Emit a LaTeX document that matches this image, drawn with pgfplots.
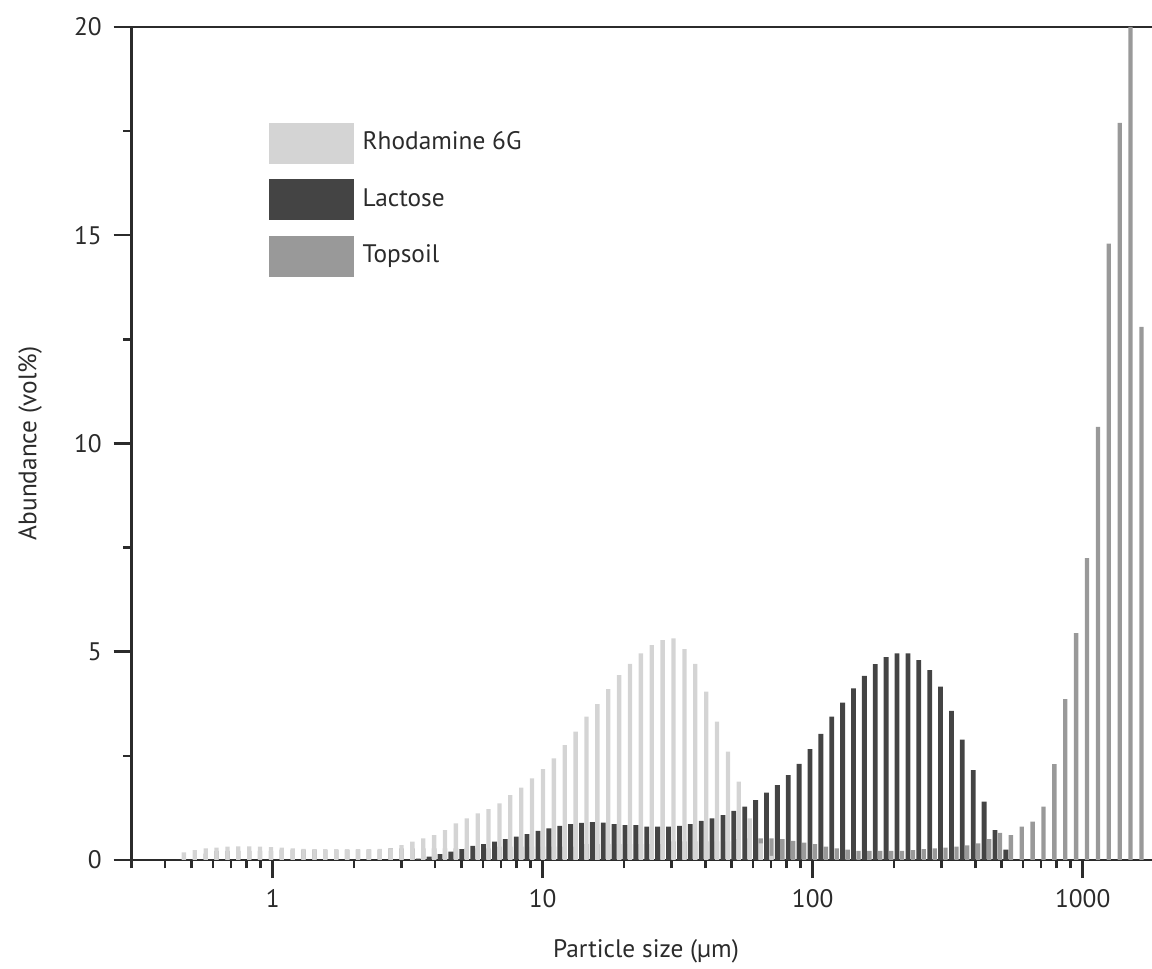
\documentclass[border=0pt]{standalone}
\usepackage{fontspec}
\setmainfont{PT Sans}
\usepackage{pgfplots}
\usepackage{pgfplotstable}
\pgfplotsset{compat=1.18}

\definecolor{rhod}{HTML}{D4D4D4}
\definecolor{lact}{HTML}{444444}
\definecolor{topc}{HTML}{999999}
\definecolor{axc}{HTML}{2B2B2B}

% particle size classes: lx = log10(size in um), abundance in vol%
\pgfplotstableread{
k  lx      rho   lac   top
0  -0.3474 0.18  0     0
1  -0.3071 0.24  0     0
2  -0.2668 0.28  0     0.15
3  -0.2265 0.30  0     0.22
4  -0.1862 0.32  0     0.22
5  -0.1459 0.33  0     0.22
6  -0.1056 0.33  0     0.22
7  -0.0653 0.32  0     0.22
8  -0.0250 0.31  0     0.22
9  0.0153  0.30  0     0.25
10 0.0556  0.28  0     0.25
11 0.0959  0.27  0     0.25
12 0.1362  0.26  0     0.25
13 0.1765  0.25  0     0.25
14 0.2168  0.25  0     0.25
15 0.2571  0.25  0     0.25
16 0.2974  0.26  0     0.25
17 0.3377  0.26  0     0.25
18 0.3780  0.27  0     0.25
19 0.4183  0.28  0     0.28
20 0.4586  0.36  0     0.28
21 0.4989  0.44  0     0.28
22 0.5392  0.52  0.03  0.28
23 0.5795  0.60  0.08  0.28
24 0.6198  0.72  0.14  0.28
25 0.6601  0.88  0.20  0.28
26 0.7004  1.00  0.26  0.28
27 0.7407  1.12  0.34  0.28
28 0.7810  1.22  0.38  0.28
29 0.8213  1.36  0.44  0.32
30 0.8616  1.56  0.50  0.32
31 0.9019  1.74  0.56  0.32
32 0.9422  1.96  0.62  0.32
33 0.9825  2.18  0.70  0.32
34 1.0228  2.44  0.76  0.32
35 1.0631  2.76  0.82  0.32
36 1.1034  3.08  0.86  0.32
37 1.1437  3.44  0.89  0.38
38 1.1840  3.74  0.91  0.38
39 1.2243  4.10  0.90  0.38
40 1.2646  4.44  0.86  0.38
41 1.3049  4.71  0.84  0.38
42 1.3452  4.96  0.84  0.38
43 1.3855  5.16  0.80  0.38
44 1.4258  5.28  0.80  0.38
45 1.4661  5.32  0.80  0.45
46 1.5064  5.06  0.82  0.45
47 1.5467  4.71  0.86  0.45
48 1.5870  4.04  0.94  0.45
49 1.6273  3.32  1.00  0.45
50 1.6676  2.60  1.08  0.45
51 1.7079  1.88  1.18  0.50
52 1.7482  1.00  1.28  0.52
53 1.7885  0.40  1.44  0.52
54 1.8288  0.10  1.62  0.52
55 1.8691  0     1.80  0.50
56 1.9094  0     2.04  0.46
57 1.9497  0     2.31  0.42
58 1.9900  0     2.66  0.38
59 2.0303  0     3.03  0.32
60 2.0706  0     3.44  0.28
61 2.1109  0     3.78  0.25
62 2.1512  0     4.12  0.22
63 2.1915  0     4.42  0.22
64 2.2318  0     4.70  0.22
65 2.2721  0     4.87  0.22
66 2.3124  0     4.96  0.22
67 2.3527  0     4.96  0.24
68 2.3930  0     4.80  0.26
69 2.4333  0     4.56  0.28
70 2.4736  0     4.16  0.30
71 2.5139  0     3.58  0.32
72 2.5542  0     2.89  0.35
73 2.5945  0     2.16  0.40
74 2.6348  0     1.40  0.50
75 2.6751  0     0.72  0.65
76 2.7154  0     0.25  0.60
77 2.7557  0     0     0.80
78 2.7960  0     0     0.92
79 2.8363  0     0     1.28
80 2.8766  0     0     2.30
81 2.9169  0     0     3.86
82 2.9572  0     0     5.45
83 2.9975  0     0     7.25
84 3.0378  0     0     10.40
85 3.0781  0     0     14.80
86 3.1184  0     0     17.70
87 3.1587  0     0     20.00
88 3.1990  0     0     12.80
}\psd

\begin{document}
\begin{tikzpicture}[font=\fontsize{7.6pt}{9pt}\selectfont, text=axc]
\useasboundingbox (0,0) rectangle (345.6pt,-290.7pt);
\begin{axis}[
    at={(39.45pt,-258pt)}, anchor=south west,
    scale only axis,
    width=309.75pt, height=249.9pt,
    xmode=log,
    xmin=0.3, xmax=2000,
    ymin=0, ymax=20,
    axis line style={draw=axc, line width=0.8pt},
    tick style={draw=axc, line width=0.75pt},
    tick align=outside,
    major tick length=5.4pt,
    minor tick length=2.5pt,
    xtick pos=bottom, ytick pos=left,
    xtick={1,10,100,1000},
    xticklabels={1,10,100,1000},
    minor xtick={0.3,0.4,0.5,0.6,0.7,0.8,0.9,2,3,4,5,6,7,8,9,20,30,40,50,60,70,80,90,200,300,400,500,600,700,800,900,2000},
    ytick={0,5,10,15,20},
    minor ytick={2.5,7.5,12.5,17.5},
    /pgf/number format/assume math mode=true,
    xlabel={Particle size (µm)},
    ylabel={Abundance (vol\%)},
    xlabel style={at={(axis description cs:0.4983,-0.1092)}, anchor=center},
    ylabel style={at={(axis description cs:-0.0983,0.5)}, anchor=center},
    legend image code/.code={\fill[#1] (0pt,-6.15pt) rectangle (25.5pt,6.15pt);},
    legend cell align=left,
    legend style={at={(axis description cs:0.1322,0.886)}, anchor=north west,
        draw=none, fill=none, inner sep=0pt, row sep=4.7pt,
        nodes={inner sep=0pt, anchor=west, text=axc},
        /tikz/column 2/.style={column sep=0pt}},
]
\addlegendimage{fill=rhod, draw=none}
\addlegendentry{\hspace{2.7pt}Rhodamine 6G}
\addlegendimage{fill=lact, draw=none}
\addlegendentry{\hspace{2.7pt}Lactose}
\addlegendimage{fill=topc, draw=none}
\addlegendentry{\hspace{2.7pt}Topsoil}

\addplot[ybar, bar width=1.3pt, bar shift=1.5pt, fill=topc, draw=none, forget plot]
    table[x expr={10^\thisrow{lx}}, y=top] {\psd};
\addplot[ybar, bar width=1.3pt, bar shift=1.5pt, fill=rhod, draw=none, forget plot]
    table[x expr={10^\thisrow{lx}}, y=rho] {\psd};
\addplot[ybar, bar width=1.45pt, bar shift=0pt, fill=lact, draw=none, forget plot]
    table[x expr={10^\thisrow{lx}}, y=lac] {\psd};
\end{axis}
\end{tikzpicture}
\end{document}
